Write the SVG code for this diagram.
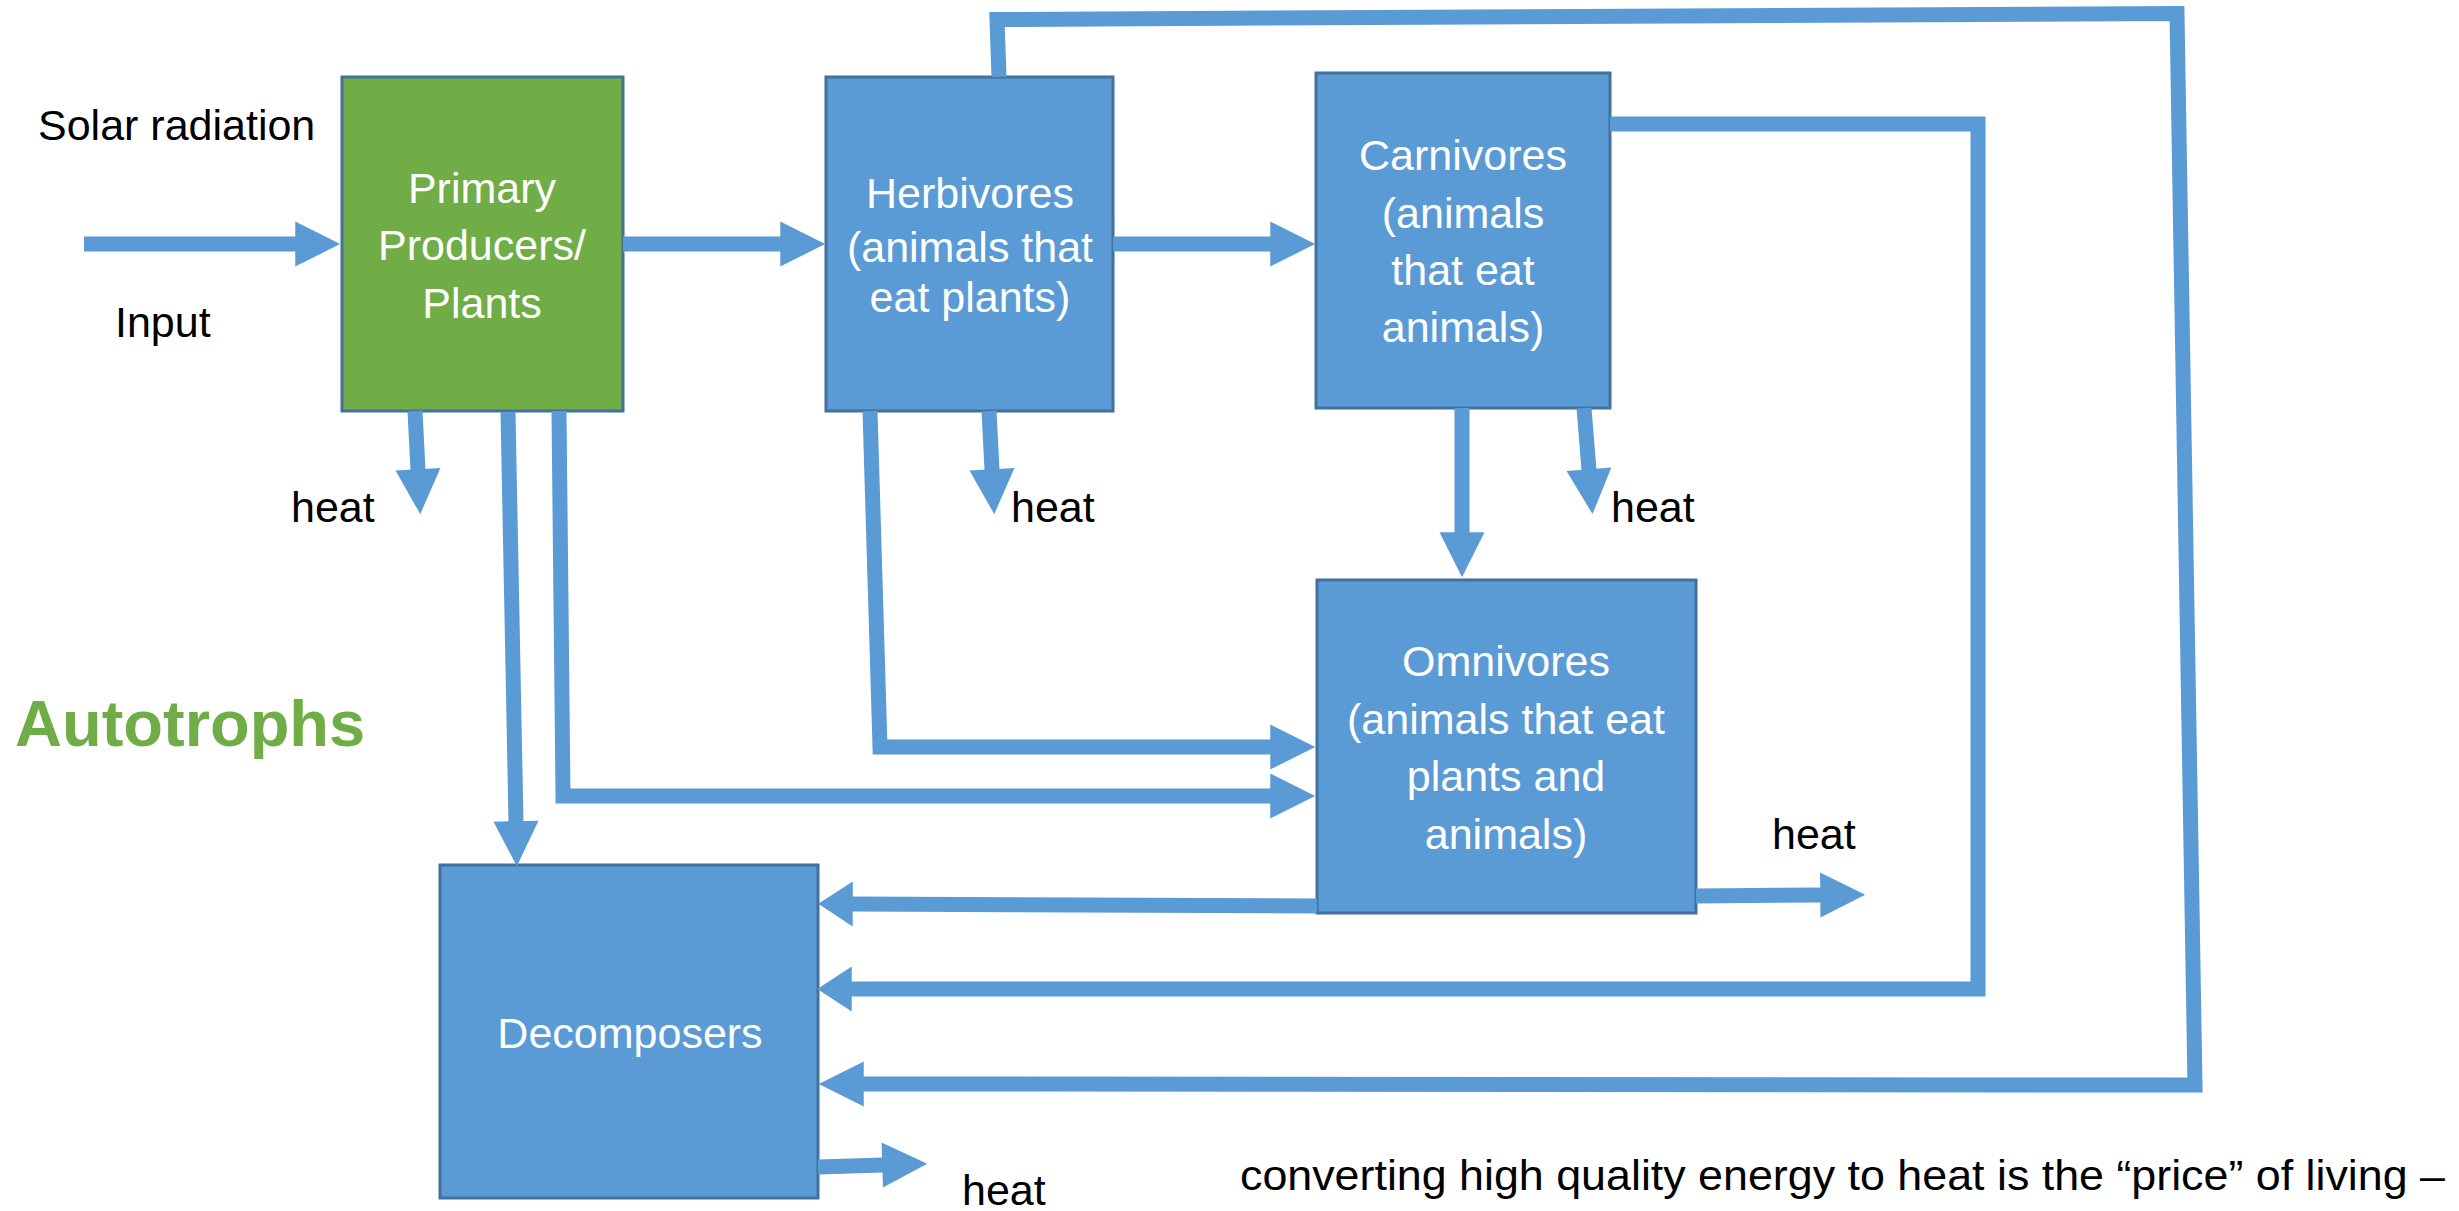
<svg xmlns="http://www.w3.org/2000/svg" width="2459" height="1211" viewBox="0 0 2459 1211">
<style>
.box{stroke:#41719C;stroke-width:3}
.blue{fill:#5B9BD5}
.green{fill:#70AD47}
.bt{font-family:"Liberation Sans",Arial,sans-serif;font-size:43px;fill:#FFFFFF;text-anchor:middle}
.lbl{font-family:"Liberation Sans",Arial,sans-serif;font-size:43px;fill:#000000}
.con{fill:none;stroke:#5B9BD5;stroke-width:15;stroke-linejoin:miter;stroke-linecap:butt}
.auto{font-family:"Liberation Sans",Arial,sans-serif;font-size:65px;font-weight:bold;fill:#70AD47}
</style>
<defs>
<marker id="ah" markerUnits="strokeWidth" markerWidth="3" markerHeight="3" refX="0.05" refY="1.5" orient="auto" viewBox="0 0 3 3" overflow="visible">
<path d="M0,0 L3,1.5 L0,3 z" fill="#5B9BD5"/>
</marker>
<marker id="ahs" markerUnits="strokeWidth" markerWidth="2.3" markerHeight="3" refX="0.05" refY="1.5" orient="auto" viewBox="0 0 2.3 3" overflow="visible">
<path d="M0,0 L2.3,1.5 L0,3 z" fill="#5B9BD5"/>
</marker>
</defs>
<rect width="2459" height="1211" fill="#FFFFFF"/>

<g id="primary">
<rect class="box green" x="342" y="77" width="281" height="334"/>
<text class="bt" x="482" y="203">Primary</text>
<text class="bt" x="482" y="260">Producers/</text>
<text class="bt" x="482" y="318">Plants</text>
</g>
<g id="herbivores">
<rect class="box blue" x="826" y="77" width="287" height="334"/>
<text class="bt" x="970" y="208">Herbivores</text>
<text class="bt" x="970" y="262">(animals that</text>
<text class="bt" x="970" y="312">eat plants)</text>
</g>
<g id="carnivores">
<rect class="box blue" x="1316" y="73" width="294" height="335"/>
<text class="bt" x="1463" y="170">Carnivores</text>
<text class="bt" x="1463" y="228">(animals</text>
<text class="bt" x="1463" y="285">that eat</text>
<text class="bt" x="1463" y="342">animals)</text>
</g>
<g id="omnivores">
<rect class="box blue" x="1317" y="580" width="379" height="333"/>
<text class="bt" x="1506" y="676">Omnivores</text>
<text class="bt" x="1506" y="734">(animals that eat</text>
<text class="bt" x="1506" y="791">plants and</text>
<text class="bt" x="1506" y="849">animals)</text>
</g>
<g id="decomposers">
<rect class="box blue" x="440" y="865" width="378" height="333"/>
<text class="bt" x="630" y="1048">Decomposers</text>
</g>

<g id="connectors">
<polyline class="con" points="84,244 296,244" marker-end="url(#ah)"/>
<polyline class="con" points="623,244 781,244" marker-end="url(#ah)"/>
<polyline class="con" points="1113,244 1271,244" marker-end="url(#ah)"/>
<polyline class="con" points="999,77 997,19.5 2177,13.5 2195,1085 863,1084" marker-end="url(#ah)"/>
<polyline class="con" points="1610,124 1978,124 1978,989 851,989" marker-end="url(#ahs)"/>
<polyline class="con" points="1317,906 852,904" marker-end="url(#ahs)"/>
<polyline class="con" points="1696,896 1821,895" marker-end="url(#ah)"/>
<polyline class="con" points="1462,408 1462,533" marker-end="url(#ah)"/>
<polyline class="con" points="1584,408 1589,470" marker-end="url(#ah)"/>
<polyline class="con" points="415,411 418,470" marker-end="url(#ah)"/>
<polyline class="con" points="989,411 992,470" marker-end="url(#ah)"/>
<polyline class="con" points="508,412 516,822" marker-end="url(#ah)"/>
<polyline class="con" points="559,411 563,796 1271,796" marker-end="url(#ah)"/>
<polyline class="con" points="870,411 880,747 1271,747" marker-end="url(#ah)"/>
<polyline class="con" points="818,1167 883,1165" marker-end="url(#ah)"/>
</g>

<g id="labels">
<text class="lbl" x="38" y="140">Solar radiation</text>
<text class="lbl" x="115" y="337">Input</text>
<text class="lbl" x="291" y="522">heat</text>
<text class="lbl" x="1011" y="522">heat</text>
<text class="lbl" x="1611" y="522">heat</text>
<text class="lbl" x="1772" y="849">heat</text>
<text class="lbl" x="962" y="1205">heat</text>
<text class="auto" x="15" y="746">Autotrophs</text>
<text class="lbl" x="1240" y="1190" textLength="1205" lengthAdjust="spacingAndGlyphs">converting high quality energy to heat is the “price” of living –</text>
</g>
</svg>
